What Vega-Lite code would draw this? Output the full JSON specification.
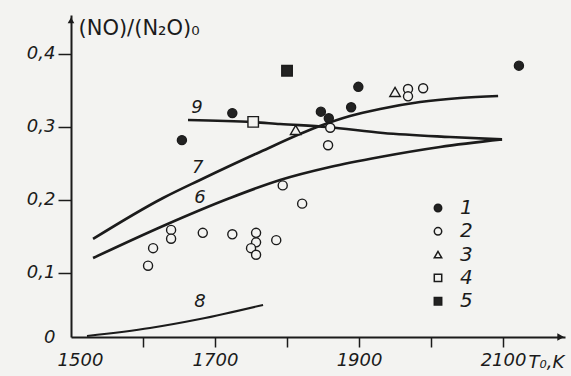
{
  "$schema": "https://vega.github.io/schema/vega-lite/v6.json",
  "width": 494,
  "height": 322,
  "autosize": {"type": "none"},
  "padding": {"left": 71, "top": 15, "right": 6, "bottom": 39},
  "background": "#f3f3f1",
  "config": {"view": {"stroke": null}, "font": "DejaVu Sans"},
  "datasets": {
    "curves": [
      {"curve": "7", "T": 1530.6, "v": 0.1466},
      {"curve": "7", "T": 1627.8, "v": 0.2027},
      {"curve": "7", "T": 1679.2, "v": 0.2274},
      {"curve": "7", "T": 1762.5, "v": 0.2658},
      {"curve": "7", "T": 1841.7, "v": 0.3},
      {"curve": "7", "T": 1887.5, "v": 0.3151},
      {"curve": "7", "T": 1929.2, "v": 0.3247},
      {"curve": "7", "T": 1984.7, "v": 0.3342},
      {"curve": "7", "T": 2040.3, "v": 0.3397},
      {"curve": "7", "T": 2093.1, "v": 0.3425},
      {"curve": "6", "T": 1530.6, "v": 0.1205},
      {"curve": "6", "T": 1627.8, "v": 0.1644},
      {"curve": "6", "T": 1720.8, "v": 0.2027},
      {"curve": "6", "T": 1790.3, "v": 0.2274},
      {"curve": "6", "T": 1859.7, "v": 0.2452},
      {"curve": "6", "T": 1929.2, "v": 0.2589},
      {"curve": "6", "T": 2012.5, "v": 0.2726},
      {"curve": "6", "T": 2098.6, "v": 0.283},
      {"curve": "9", "T": 1662.5, "v": 0.3096},
      {"curve": "9", "T": 1752.8, "v": 0.3068},
      {"curve": "9", "T": 1790.3, "v": 0.3041},
      {"curve": "9", "T": 1855.6, "v": 0.3},
      {"curve": "9", "T": 1933.3, "v": 0.2918},
      {"curve": "9", "T": 2026.4, "v": 0.2863},
      {"curve": "9", "T": 2098.6, "v": 0.283}
    ],
    "curve8": [
      {"curve": "8", "T": 1522.2, "v": 0.0137},
      {"curve": "8", "T": 1609.7, "v": 0.0247},
      {"curve": "8", "T": 1679.2, "v": 0.037},
      {"curve": "8", "T": 1766.7, "v": 0.0562}
    ],
    "points": [
      {"T": 1654, "v": 0.282, "type": "1"},
      {"T": 1724, "v": 0.319, "type": "1"},
      {"T": 1899, "v": 0.355, "type": "1"},
      {"T": 1889, "v": 0.327, "type": "1"},
      {"T": 1847, "v": 0.321, "type": "1"},
      {"T": 1858, "v": 0.312, "type": "1"},
      {"T": 2122, "v": 0.384, "type": "1"},
      {"T": 1607, "v": 0.11, "type": "2"},
      {"T": 1614, "v": 0.134, "type": "2"},
      {"T": 1639, "v": 0.159, "type": "2"},
      {"T": 1639, "v": 0.147, "type": "2"},
      {"T": 1683, "v": 0.155, "type": "2"},
      {"T": 1724, "v": 0.153, "type": "2"},
      {"T": 1757, "v": 0.155, "type": "2"},
      {"T": 1757, "v": 0.142, "type": "2"},
      {"T": 1750, "v": 0.134, "type": "2"},
      {"T": 1757, "v": 0.125, "type": "2"},
      {"T": 1785, "v": 0.145, "type": "2"},
      {"T": 1794, "v": 0.22, "type": "2"},
      {"T": 1821, "v": 0.195, "type": "2"},
      {"T": 1860, "v": 0.299, "type": "2"},
      {"T": 1857, "v": 0.275, "type": "2"},
      {"T": 1968, "v": 0.352, "type": "2"},
      {"T": 1968, "v": 0.342, "type": "2"},
      {"T": 1989, "v": 0.353, "type": "2"},
      {"T": 1812, "v": 0.296, "type": "3"},
      {"T": 1950, "v": 0.348, "type": "3"},
      {"T": 1753, "v": 0.307, "type": "4"},
      {"T": 1800, "v": 0.377, "type": "5"}
    ],
    "labels": [
      {"T": 1675, "v": 0.326, "label": "9"},
      {"T": 1676, "v": 0.244, "label": "7"},
      {"T": 1679, "v": 0.203, "label": "6"},
      {"T": 1679, "v": 0.06, "label": "8"}
    ],
    "arrowX": [{"T": 2180, "v": 0.01233}],
    "arrowY": [{"T": 1500, "v": 0.446}]
  },
  "encoding": {
    "x": {
      "field": "T", "type": "quantitative",
      "scale": {"domain": [1500, 2186], "nice": false, "zero": false},
      "axis": {
        "values": [1500, 1600, 1700, 1800, 1900, 2000, 2100],
        "labelExpr": "(datum.value == 1500 || datum.value == 1700 || datum.value == 1900 || datum.value == 2100) ? format(datum.value, 'd') : ''",
        "grid": false,
        "domainColor": "#1b1b1b", "domainWidth": 2,
        "tickColor": "#1b1b1b", "tickWidth": 1.5, "tickSize": 10,
        "tickOpacity": {"condition": {"test": "datum.value == 1500", "value": 0}, "value": 1},
        "labelOffset": {"condition": {"test": "datum.value == 1500", "value": 9}, "value": 0},
        "labelFont": "DejaVu Sans", "labelFontStyle": "italic", "labelFontSize": 18,
        "labelColor": "#1b1b1b", "labelPadding": 4, "labelFlush": false, "labelOverlap": false,
        "title": "T₀,K", "titleX": 457, "titleY": 25, "titleAlign": "left", "titleBaseline": "middle",
        "titleFont": "DejaVu Sans", "titleFontStyle": "italic", "titleFontWeight": "normal", "titleFontSize": 18, "titleColor": "#1b1b1b"
      }
    },
    "y": {
      "field": "v", "type": "quantitative",
      "scale": {"domain": [0.01233, 0.4534], "nice": false, "zero": false},
      "axis": {
        "values": [0.01233, 0.1, 0.2, 0.3, 0.4],
        "labelExpr": "datum.value < 0.05 ? '0' : replace(format(datum.value, '.1f'), '.', ',')",
        "grid": false,
        "domainColor": "#1b1b1b", "domainWidth": 2,
        "tickColor": "#1b1b1b", "tickWidth": 1.5, "tickSize": 13,
        "tickOpacity": {"condition": {"test": "datum.value < 0.05", "value": 0}, "value": 1},
        "labelFont": "DejaVu Sans", "labelFontStyle": "italic", "labelFontSize": 18,
        "labelColor": "#1b1b1b", "labelPadding": 3, "labelFlush": false, "labelOverlap": false,
        "title": "(NO)/(N₂O)₀", "titleAngle": 0, "titleX": 7, "titleY": 13, "titleAlign": "left", "titleBaseline": "middle",
        "titleFont": "DejaVu Sans", "titleFontWeight": "normal", "titleFontSize": 21, "titleColor": "#1b1b1b"
      }
    }
  },
  "layer": [
    {
      "data": {"name": "curves"},
      "mark": {"type": "line", "color": "#1b1b1b", "strokeWidth": 2.6, "interpolate": "monotone"},
      "encoding": {"detail": {"field": "curve"}}
    },
    {
      "data": {"name": "curve8"},
      "mark": {"type": "line", "color": "#1b1b1b", "strokeWidth": 2, "interpolate": "monotone"},
      "encoding": {}
    },
    {
      "data": {"name": "points"},
      "transform": [{"filter": "datum.type == '1' || datum.type == '2'"}],
      "mark": {"type": "point", "filled": true, "stroke": "#1b1b1b", "strokeWidth": 1.4, "opacity": 1, "size": 82},
      "encoding": {
        "shape": {
          "field": "type", "type": "nominal",
          "scale": {"domain": ["1", "2", "3", "4", "5"], "range": ["circle", "circle", "triangle-up", "square", "square"]},
          "legend": {"title": null, "orient": "none", "legendX": 357, "legendY": 183, "padding": 0, "symbolSize": 55,
            "labelFont": "DejaVu Sans", "labelFontStyle": "italic", "labelFontSize": 20, "labelColor": "#1b1b1b",
            "rowPadding": 3.3, "labelOffset": 12,
            "encode": {"symbols": {"update": {"stroke": {"value": "#1b1b1b"}, "strokeWidth": {"value": 1.3}, "opacity": {"value": 1}}}}}
        },
        "fill": {
          "field": "type", "type": "nominal",
          "scale": {"domain": ["1", "2", "3", "4", "5"], "range": ["#222222", "#f3f3f1", "#f3f3f1", "#f3f3f1", "#222222"]},
          "legend": {"title": null, "orient": "none", "legendX": 357, "legendY": 183, "padding": 0, "symbolSize": 55,
            "labelFont": "DejaVu Sans", "labelFontStyle": "italic", "labelFontSize": 20, "labelColor": "#1b1b1b",
            "rowPadding": 3.3, "labelOffset": 12,
            "encode": {"symbols": {"update": {"stroke": {"value": "#1b1b1b"}, "strokeWidth": {"value": 1.3}, "opacity": {"value": 1}}}}}
        }
      }
    },
    {
      "data": {"name": "points"},
      "transform": [{"filter": "datum.type == '3' || datum.type == '4' || datum.type == '5'"}],
      "mark": {"type": "point", "filled": true, "stroke": "#1b1b1b", "strokeWidth": 1.4, "opacity": 1, "size": 110},
      "encoding": {
        "shape": {
          "field": "type", "type": "nominal",
          "scale": {"domain": ["1", "2", "3", "4", "5"], "range": ["circle", "circle", "triangle-up", "square", "square"]},
          "legend": {"title": null, "orient": "none", "legendX": 357, "legendY": 183, "padding": 0, "symbolSize": 55,
            "labelFont": "DejaVu Sans", "labelFontStyle": "italic", "labelFontSize": 20, "labelColor": "#1b1b1b",
            "rowPadding": 3.3, "labelOffset": 12,
            "encode": {"symbols": {"update": {"stroke": {"value": "#1b1b1b"}, "strokeWidth": {"value": 1.3}, "opacity": {"value": 1}}}}}
        },
        "fill": {
          "field": "type", "type": "nominal",
          "scale": {"domain": ["1", "2", "3", "4", "5"], "range": ["#222222", "#f3f3f1", "#f3f3f1", "#f3f3f1", "#222222"]},
          "legend": {"title": null, "orient": "none", "legendX": 357, "legendY": 183, "padding": 0, "symbolSize": 55,
            "labelFont": "DejaVu Sans", "labelFontStyle": "italic", "labelFontSize": 20, "labelColor": "#1b1b1b",
            "rowPadding": 3.3, "labelOffset": 12,
            "encode": {"symbols": {"update": {"stroke": {"value": "#1b1b1b"}, "strokeWidth": {"value": 1.3}, "opacity": {"value": 1}}}}}
        }
      }
    },
    {
      "data": {"name": "labels"},
      "mark": {"type": "text", "font": "DejaVu Sans", "fontStyle": "italic", "fontSize": 18, "color": "#1b1b1b"},
      "encoding": {"text": {"field": "label"}}
    },
    {
      "data": {"name": "arrowX"},
      "mark": {"type": "point", "shape": "triangle-right", "filled": true, "color": "#1b1b1b", "size": 60, "opacity": 1},
      "encoding": {}
    },
    {
      "data": {"name": "arrowY"},
      "mark": {"type": "point", "shape": "triangle-up", "filled": true, "color": "#1b1b1b", "size": 45, "opacity": 1},
      "encoding": {}
    }
  ]
}
